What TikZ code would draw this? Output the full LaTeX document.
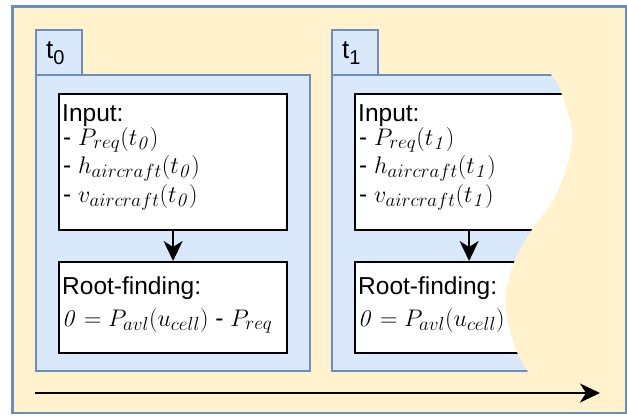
\RequirePackage{fix-cm}
\documentclass[tikz,border=0pt]{standalone}
\usepackage[no-math]{fontspec}
\setmainfont{Liberation Sans}
\usetikzlibrary{arrows.meta}
\DeclareMathSizes{24.5}{24}{19}{15}

\definecolor{paper}{HTML}{FFF2CC}
\definecolor{lane}{HTML}{DAE8FC}
\definecolor{edgeblue}{HTML}{6C8EBF}

\newcommand{\steplabel}[1]{t\raisebox{-6pt}{\fontsize{20}{20}\selectfont #1}}

\tikzset{
  panel/.style={rectangle, inner sep=0pt, anchor=north west, line width=1.6pt, draw=edgeblue},
  outerbox/.style={panel, fill=paper},
  lanebox/.style={panel, fill=lane},
  stagebox/.style={rectangle, inner sep=0pt, anchor=north west, fill=white, draw=black, line width=2.2pt},
  txt/.style={anchor=base west, inner sep=0pt, font=\fontsize{24.5}{29}\selectfont},
  tablabel/.style={anchor=base west, inner sep=0pt, font=\fontsize{26}{30}\selectfont},
  flow/.style={line width=2pt, -{Stealth[length=20pt, width=19pt, inset=6pt]}},
}

\begin{document}
\begin{tikzpicture}[x=1pt, y=-1pt]
  \useasboundingbox (0,0) rectangle (627,416);

  % background frame
  \node[outerbox, minimum width=613pt, minimum height=406pt] (frame) at (12,6) {};

  % time step t0
  \node[lanebox, minimum width=46pt, minimum height=45pt] (tab0) at (35,29) {};
  \node[lanebox, minimum width=274pt, minimum height=296pt] (lane0) at (35,74) {};
  \node[tablabel] (tab0txt) at (46,58) {\steplabel{0}};
  \node[stagebox, minimum width=228pt, minimum height=136pt] (in0) at (58,93) {};
  \node[stagebox, minimum width=228pt, minimum height=91pt] (rf0) at (58,261) {};
  \draw[flow] (in0.south) -- (rf0.north);
  \node[txt] (in0a) at (62,121) {Input:};
  \node[txt] (in0b) at (63,145) {- $P_{req}(t_{\mathit{0}})$};
  \node[txt] (in0c) at (63,173) {- $h_{aircraft}(t_{\mathit{0}})$};
  \node[txt] (in0d) at (63,202) {- $v_{aircraft}(t_{\mathit{0}})$};
  \node[txt] (rf0a) at (62,294) {Root-finding:};
  \node[txt] (rf0b) at (62,326) {$\mathit{0} = P_{avl}(u_{cell})$ - $P_{req}$};

  % time step t1
  \node[lanebox, minimum width=46pt, minimum height=45pt] (tab1) at (331,29) {};
  \node[lanebox, minimum width=274pt, minimum height=296pt] (lane1) at (331,74) {};
  \node[tablabel] (tab1txt) at (342,58) {\steplabel{1}};
  \node[stagebox, minimum width=228pt, minimum height=136pt] (in1) at (354,93) {};
  \node[stagebox, minimum width=228pt, minimum height=91pt] (rf1) at (354,261) {};
  \draw[flow] (in1.south) -- (rf1.north);
  \node[txt] (in1a) at (358,121) {Input:};
  \node[txt] (in1b) at (359,145) {- $P_{req}(t_{\mathit{1}})$};
  \node[txt] (in1c) at (359,173) {- $h_{aircraft}(t_{\mathit{1}})$};
  \node[txt] (in1d) at (359,202) {- $v_{aircraft}(t_{\mathit{1}})$};
  \node[txt] (rf1a) at (358,294) {Root-finding:};
  \node[txt] (rf1b) at (358,326) {$\mathit{0} = P_{avl}(u_{cell})$ - $P_{req}$};

  % torn-off edge hiding the rest of step t1
  \fill[paper] plot[smooth, tension=0.6] coordinates {
      (546,66) (550,73) (561,92) (572,140) (557,193) (533,228)
      (515,260) (506,293) (507,318) (517,352) (527,370) (530,376)}
    -- (624,376) -- (624,66) -- cycle;
  \draw[edgeblue, line width=1.6pt] (frame.north west) rectangle (frame.south east);

  % time axis
  \coordinate (axis0) at (35,393);
  \coordinate (axis1) at (600,393);
  \draw[flow] (axis0) -- (axis1);
\end{tikzpicture}
\end{document}
